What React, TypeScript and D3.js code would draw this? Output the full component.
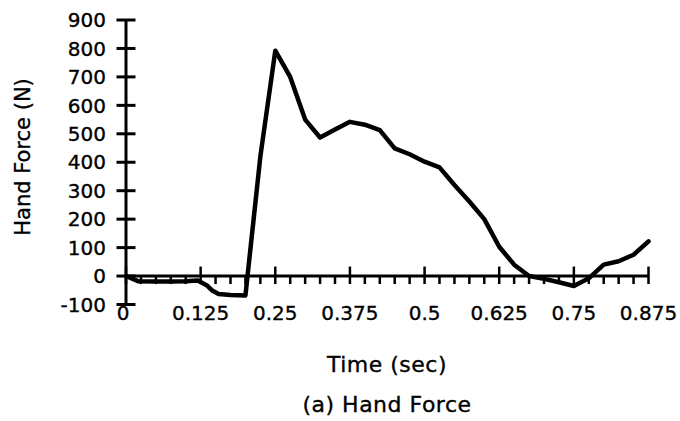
import React from "react";
import * as d3 from "d3";

const times = [0, 0.02, 0.05, 0.075, 0.1, 0.12, 0.135, 0.145, 0.155, 0.175, 0.2, 0.225, 0.25, 0.275, 0.3, 0.325, 0.35, 0.375, 0.4, 0.425, 0.45, 0.475, 0.5, 0.525, 0.55, 0.575, 0.6, 0.625, 0.65, 0.675, 0.7, 0.725, 0.75, 0.775, 0.8, 0.825, 0.85, 0.875];
const forces = [0, -18, -19, -19, -18, -16, -32, -52, -63, -67, -68, 420, 792, 700, 550, 487, 515, 542, 532, 513, 449, 428, 402, 382, 320, 262, 200, 103, 40, 0, -10, -22, -35, -8, 40, 52, 75, 122];

const xMajorTicks = [0, 0.125, 0.25, 0.375, 0.5, 0.625, 0.75, 0.875];
const xTickLabels = ["0", "0.125", "0.25", "0.375", "0.5", "0.625", "0.75", "0.875"];
const xMinorStep = 0.025;
const yTicks = [-100, 0, 100, 200, 300, 400, 500, 600, 700, 800, 900];

const xTitle = "Time (sec)";
const yTitle = "Hand Force (N)";
const caption = "(a) Hand Force";

export default function App() {
  const x = d3.scaleLinear().domain([0, 0.875]).range([126, 648.5]);
  const y = d3.scaleLinear().domain([-100, 900]).range([304.5, 20]);
  const y0 = y(0);

  const minor: number[] = d3.range(0, 0.875 + 1e-9, xMinorStep).filter(
    (t) => !xMajorTicks.some((m) => Math.abs(m - t) < 1e-6)
  );

  const data = times.map((t, i) => [t, forces[i]] as [number, number]);
  const line = d3
    .line<[number, number]>()
    .x((d) => x(d[0]))
    .y((d) => y(d[1]));

  const font = "'DejaVu Sans', sans-serif";
  const textStroke = { stroke: "#000", strokeWidth: 0.35 };

  return (
    <svg
      width={680}
      height={421}
      style={{ position: "absolute", left: 0, top: 0, background: "#fff" }}
    >
      <rect x={0} y={0} width={680} height={421} fill="#fff" />
      {/* y axis */}
      <line x1={x(0)} x2={x(0)} y1={y(-100)} y2={y(900)} stroke="#000" strokeWidth={3} />
      {yTicks.map((v) => (
        <g key={"yt" + v}>
          <line x1={x(0) - 9.5} x2={x(0) + 9.5} y1={y(v)} y2={y(v)} stroke="#000" strokeWidth={3} />
          <text
            x={106}
            y={y(v)}
            dy="0.36em"
            textAnchor="end"
            fontFamily={font}
            fontSize={20}
            fill="#000"
            {...textStroke}
          >
            {v}
          </text>
        </g>
      ))}
      {/* x axis */}
      <line x1={x(0)} x2={x(0.875)} y1={y0} y2={y0} stroke="#000" strokeWidth={3} />
      {xMajorTicks.map((t) => (
        <line key={"xm" + t} x1={x(t)} x2={x(t)} y1={y0 - 9.5} y2={y0 + 8} stroke="#000" strokeWidth={2.5} />
      ))}
      {minor.map((t) => (
        <line key={"xn" + t} x1={x(t)} x2={x(t)} y1={y0} y2={y0 + 8} stroke="#000" strokeWidth={2.5} />
      ))}
      {xMajorTicks.map((t, i) => (
        <text
          key={"xl" + t}
          x={i === 0 ? x(t) - 3 : x(t)}
          y={320}
          textAnchor="middle"
          fontFamily={font}
          fontSize={20}
          fill="#000"
          {...textStroke}
        >
          {xTickLabels[i]}
        </text>
      ))}
      {/* data line */}
      <path
        d={line(data) || ""}
        fill="none"
        stroke="#000"
        strokeWidth={4.5}
        strokeLinejoin="round"
        strokeLinecap="round"
      />
      {/* titles */}
      <text
        x={387}
        y={372}
        textAnchor="middle"
        fontFamily={font}
        fontSize={22}
        letterSpacing={0.5}
        fill="#000"
        {...textStroke}
      >
        {xTitle}
      </text>
      <text
        x={387}
        y={412}
        textAnchor="middle"
        fontFamily={font}
        fontSize={22}
        letterSpacing={0.5}
        fill="#000"
        {...textStroke}
      >
        {caption}
      </text>
      <text
        transform={`translate(30,157) rotate(-90)`}
        textAnchor="middle"
        fontFamily={font}
        fontSize={21}
        fill="#000"
        {...textStroke}
      >
        {yTitle}
      </text>
    </svg>
  );
}
